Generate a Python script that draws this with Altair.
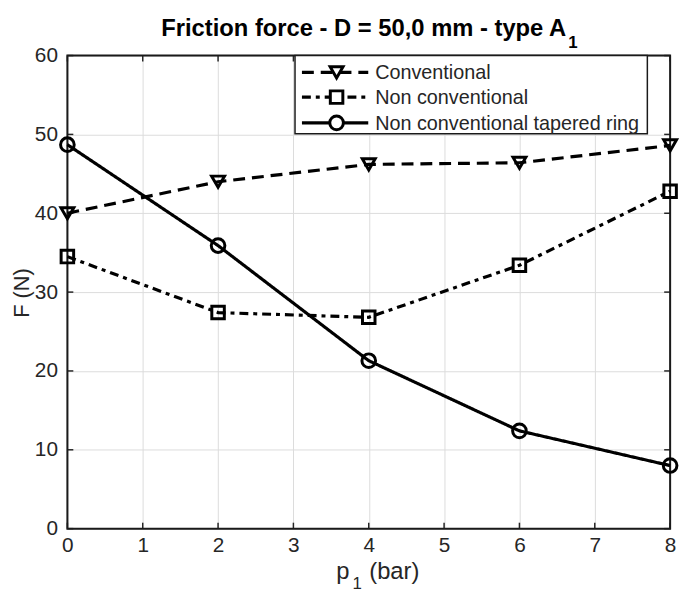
import altair as alt
import pandas as pd

# ---- data ----
pressure = [0, 2, 4, 6, 8]
conventional = [40.0, 44.0, 46.2, 46.4, 48.6]
non_conventional = [34.5, 27.4, 26.8, 33.4, 42.8]
tapered_ring = [48.7, 35.9, 21.3, 12.4, 8.0]
series_names = ["Conventional", "Non conventional", "Non conventional tapered ring"]
x_ticks = [0, 1, 2, 3, 4, 5, 6, 7, 8]
y_ticks = [0, 10, 20, 30, 40, 50, 60]

W, H = 609, 478
FONT = "Liberation Sans"
LBL = "#262626"

xs = alt.Scale(domain=[0, 8], nice=False, zero=False)
ys = alt.Scale(domain=[0, 60], nice=False, zero=False)

xa = alt.Axis(values=x_ticks, grid=True, gridColor="#dcdcdc", gridWidth=1,
              ticks=False, tickSize=0, domain=False, labelFontSize=21, labelFont=FONT, labelColor=LBL,
              labelPadding=6, title=None, labelFlush=False)
ya = alt.Axis(values=y_ticks, grid=True, gridColor="#dcdcdc", gridWidth=1,
              ticks=False, tickSize=0, domain=False, labelFontSize=21, labelFont=FONT, labelColor=LBL,
              labelPadding=10, title=None, labelFlush=False)


def X(f):
    return alt.X(f, scale=xs, axis=xa)


def Y(f):
    return alt.Y(f, scale=ys, axis=ya)


styles = [
    dict(dash=[12, 7], shape="triangle-down", size=170),
    dict(dash=[9, 5, 4, 5], shape="square", size=160),
    dict(dash=[1, 0], shape="circle", size=190),
]
values = [conventional, non_conventional, tapered_ring]

layers = []

tick_x = pd.DataFrame({"t": x_ticks})
tick_y = pd.DataFrame({"t": y_ticks})

# inward ticks on all sides
tk = dict(color="#262626", strokeWidth=1.5)
layers.append(alt.Chart(tick_x).mark_rule(**tk).encode(x=X("t:Q"), y=alt.value(H), y2=alt.value(H - 6)))
layers.append(alt.Chart(tick_x).mark_rule(**tk).encode(x=X("t:Q"), y=alt.value(0), y2=alt.value(6)))
layers.append(alt.Chart(tick_y).mark_rule(**tk).encode(y=Y("t:Q"), x=alt.value(0), x2=alt.value(6)))
layers.append(alt.Chart(tick_y).mark_rule(**tk).encode(y=Y("t:Q"), x=alt.value(W), x2=alt.value(W - 6)))

# frame
layers.append(alt.Chart(pd.DataFrame({"a": [0]})).mark_rect(fill=None, stroke="#1a1a1a", strokeWidth=2).encode(
    x=alt.value(0), x2=alt.value(W), y=alt.value(0), y2=alt.value(H)))

# series
for name, vals, st in zip(series_names, values, styles):
    df = pd.DataFrame({"p": pressure, "F": vals, "s": name})
    layers.append(alt.Chart(df).mark_line(color="black", strokeWidth=3.2, strokeDash=st["dash"]).encode(
        x=X("p:Q"), y=Y("F:Q")))
    layers.append(alt.Chart(df).mark_point(shape=st["shape"], size=st["size"], filled=False, color="black",
                                           strokeWidth=3, opacity=1).encode(x=X("p:Q"), y=Y("F:Q")))

# legend
LX0, LX1, LY0, LY1 = 230, 586, 0, 79
layers.append(alt.Chart(pd.DataFrame({"a": [0]})).mark_rect(fill="white", stroke="#1a1a1a", strokeWidth=1.5).encode(
    x=alt.value(LX0), x2=alt.value(LX1), y=alt.value(LY0), y2=alt.value(LY1)))
row_y = [17, 42, 68]
for name, st, ry in zip(series_names, styles, row_y):
    d = pd.DataFrame({"s": [name]})
    layers.append(alt.Chart(d).mark_rule(color="black", strokeWidth=3.2, strokeDash=st["dash"]).encode(
        x=alt.value(237), x2=alt.value(304), y=alt.value(ry)))
    layers.append(alt.Chart(d).mark_point(shape=st["shape"], size=st["size"], filled=False, fill="white", color="black",
                                          strokeWidth=3, opacity=1).encode(x=alt.value(272), y=alt.value(ry)))
    layers.append(alt.Chart(d).mark_text(align="left", baseline="middle", font=FONT, fontSize=20, color=LBL).encode(
        x=alt.value(311), y=alt.value(ry + 1), text="s:N"))

# titles
one = pd.DataFrame({"a": [0]})
title_main = "Friction force - D = 50,0 mm - type A"
layers.append(alt.Chart(one).mark_text(align="right", baseline="alphabetic", font=FONT, fontSize=24,
                                       fontWeight="bold", color="black", text=title_main).encode(
    x=alt.value(504), y=alt.value(-20)))
layers.append(alt.Chart(one).mark_text(align="left", baseline="alphabetic", font=FONT, fontSize=17,
                                       fontWeight="bold", color="black", text="1").encode(
    x=alt.value(506), y=alt.value(-8)))
# x title p_1 (bar)
layers.append(alt.Chart(one).mark_text(align="right", baseline="alphabetic", font=FONT, fontSize=24,
                                       color=LBL, text="p").encode(x=alt.value(285), y=alt.value(H + 51)))
layers.append(alt.Chart(one).mark_text(align="left", baseline="alphabetic", font=FONT, fontSize=17,
                                       color=LBL, text="1").encode(x=alt.value(288), y=alt.value(H + 61)))
layers.append(alt.Chart(one).mark_text(align="left", baseline="alphabetic", font=FONT, fontSize=24,
                                       color=LBL, text="(bar)").encode(x=alt.value(305), y=alt.value(H + 51)))
# y title
layers.append(alt.Chart(one).mark_text(align="center", baseline="middle", font=FONT, fontSize=22, angle=270,
                                       color=LBL, text="F (N)").encode(x=alt.value(-46), y=alt.value(240)))

chart = alt.layer(*layers).properties(
    width=W, height=H,
    autosize=alt.AutoSizeParams(type="none"),
    padding={"left": 60, "top": 45, "right": 11, "bottom": 64},
).configure_view(stroke=None).configure(background="white")

chart.save("out.html", embed_options={"renderer": "svg", "actions": False})
